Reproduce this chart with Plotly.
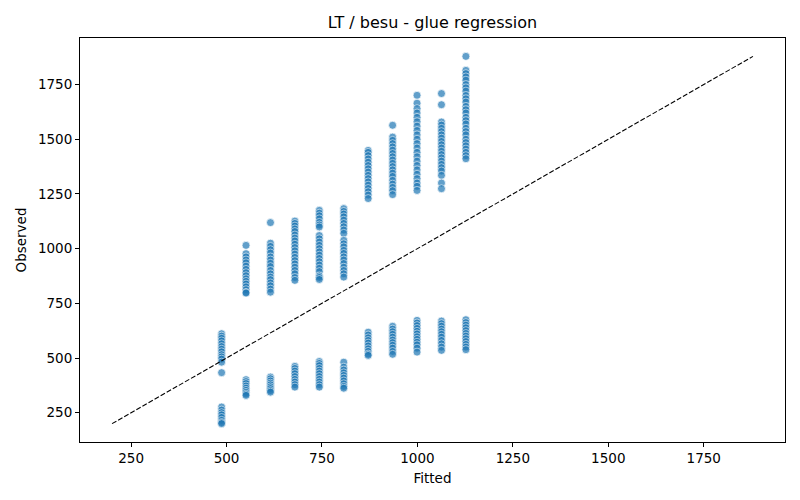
import plotly.graph_objects as go

# fitted levels (one column of points per level)
fitted_levels = [487, 551, 615, 679, 743, 807, 871, 935, 999, 1063, 1127]

# observed values at each fitted level
obs_487 = [611, 600, 590, 578, 565, 552, 540, 528, 515, 505, 495, 481, 433,
           276, 262, 250, 240, 228, 215, 205, 200]
obs_551 = [1015, 977, 962, 948, 935, 920, 905, 890, 876, 862, 850, 838, 825, 812, 800, 797,
           401, 392, 383, 372, 362, 352, 343, 335, 329]
obs_615 = [1119, 1025, 1010, 995, 980, 962, 948, 933, 918, 900, 885, 870, 858, 843, 830, 815, 801,
           413, 405, 395, 385, 377, 368, 360, 351, 344]
obs_679 = [1126, 1115, 1103, 1090, 1078, 1062, 1048, 1035, 1020, 1005, 990, 975, 960, 945, 930,
           915, 900, 885, 868, 855,
           462, 452, 440, 428, 415, 402, 390, 378, 367]
obs_743 = [1175, 1162, 1150, 1136, 1120, 1108, 1099, 1060, 1045, 1030, 1015, 1000, 985, 970, 955,
           940, 925, 910, 895, 875, 868, 859,
           484, 475, 465, 452, 440, 428, 415, 402, 390, 378, 367]
obs_807 = [1183, 1170, 1158, 1145, 1130, 1115, 1100, 1085, 1070, 1038, 1022, 1008, 992, 978, 962,
           948, 932, 915, 900, 885, 870,
           481, 458, 445, 432, 420, 408, 395, 382, 370, 362]
obs_871 = [1449, 1440, 1425, 1410, 1395, 1380, 1365, 1350, 1335, 1320, 1305, 1290, 1275, 1260,
           1245, 1229,
           618, 605, 592, 580, 568, 555, 542, 530, 518, 512]
obs_935 = [1564, 1510, 1495, 1480, 1465, 1450, 1435, 1420, 1405, 1390, 1375, 1360, 1345, 1330,
           1312, 1295, 1280, 1265, 1247,
           645, 632, 620, 608, 595, 582, 570, 558, 545, 530, 517]
obs_999 = [1701, 1665, 1640, 1620, 1600, 1580, 1560, 1540, 1520, 1500, 1480, 1460, 1440, 1420,
           1400, 1380, 1360, 1340, 1320, 1300, 1285, 1266,
           672, 660, 648, 635, 622, 610, 597, 585, 572, 560, 545, 527]
obs_1063 = [1709, 1658, 1579, 1565, 1550, 1535, 1520, 1505, 1490, 1475, 1460, 1445, 1430, 1415,
            1400, 1385, 1370, 1355, 1335, 1300, 1274,
            669, 657, 645, 632, 620, 608, 595, 580, 565, 550, 535]
obs_1127 = [1879, 1815, 1800, 1785, 1770, 1750, 1735, 1720, 1700, 1685, 1670, 1650, 1635, 1620,
            1600, 1585, 1570, 1550, 1535, 1520, 1500, 1485, 1470, 1455, 1440, 1425, 1411,
            675, 662, 650, 638, 625, 612, 600, 588, 575, 562, 550, 538]

observed_cols = [obs_487, obs_551, obs_615, obs_679, obs_743, obs_807,
                 obs_871, obs_935, obs_999, obs_1063, obs_1127]

fitted, observed = [], []
for f, col in zip(fitted_levels, observed_cols):
    fitted += [f] * len(col)
    observed += col

# y = x reference line spans the full data range
lo = min(min(fitted), min(observed))
hi = max(max(fitted), max(observed))
pad = 0.05 * (hi - lo)
rng = [lo - pad, hi + pad]

fig = go.Figure()
fig.add_trace(go.Scatter(
    x=fitted, y=observed, mode="markers",
    marker=dict(color="#1f77b4", size=8, opacity=0.7,
                line=dict(color="white", width=0.75)),
    showlegend=False))
fig.add_trace(go.Scatter(
    x=[lo, hi], y=[lo, hi], mode="lines",
    line=dict(color="black", width=1.1, dash="5px,2px"),
    showlegend=False))

axis_style = dict(showgrid=False, zeroline=False, showline=True, linecolor="black",
                  linewidth=1, mirror=True, ticks="outside", ticklen=4, tickwidth=1,
                  tickcolor="black", tickfont=dict(size=13.5, color="black"),
                  range=rng, tickvals=[250, 500, 750, 1000, 1250, 1500, 1750],
                  automargin=False)

fig.update_xaxes(title=dict(text="Fitted", font=dict(size=13.5, color="black"), standoff=8),
                 **axis_style)
fig.update_yaxes(title=dict(text="Observed", font=dict(size=13.5, color="black"), standoff=8),
                 **axis_style)

# page body adds an 8px offset, so margins are shifted to compensate
fig.update_layout(
    width=800, height=500,
    margin=dict(l=72, r=23, t=30, b=66),
    plot_bgcolor="white", paper_bgcolor="white",
    font=dict(family="DejaVu Sans", color="black"),
    title=dict(text="LT / besu - glue regression", x=0.5, xanchor="center",
               xref="paper", y=1 - 14 / 500, yref="container", yanchor="middle",
               font=dict(size=16, color="black")),
)

fig.write_html("out.html")
